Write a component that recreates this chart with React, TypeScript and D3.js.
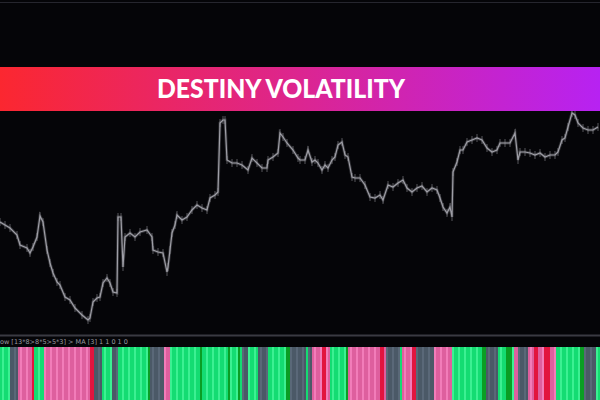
import { useEffect, useRef } from 'react';
import * as d3 from 'd3';

// price path: time index and level
const priceTime = [0, 5, 10, 17, 20, 27, 30, 33, 37, 40, 43, 47, 50, 53, 57, 60, 65, 70, 75, 82, 88, 90, 93, 97, 100, 103, 107, 110, 113, 117, 118, 121, 123, 125, 130, 135, 140, 147, 152, 153, 158, 163, 167, 168, 170, 172, 175, 177, 182, 187, 192, 197, 202, 207, 210, 215, 218, 220, 223, 225, 227, 232, 237, 242, 248, 252, 257, 262, 267, 268, 273, 278, 280, 283, 287, 293, 298, 300, 305, 308, 312, 315, 318, 322, 325, 328, 332, 335, 338, 342, 345, 348, 352, 355, 360, 365, 370, 375, 380, 383, 388, 393, 398, 403, 407, 412, 417, 422, 427, 432, 437, 440, 443, 447, 450, 452, 453, 457, 460, 463, 467, 472, 477, 482, 487, 492, 497, 500, 505, 510, 515, 518, 520, 525, 530, 535, 540, 545, 550, 555, 558, 562, 565, 568, 572, 575, 578, 583, 588, 593, 598];
const priceLevel = [108, 105, 102, 95, 85, 82, 77, 83, 93, 114, 108, 80, 67, 57, 48, 45, 33, 30, 22, 15, 10, 12, 28, 32, 33, 47, 52, 47, 38, 37, 113, 113, 63, 93, 97, 93, 98, 100, 93, 80, 78, 77, 58, 63, 80, 97, 105, 115, 110, 113, 120, 125, 122, 120, 132, 135, 138, 207, 210, 210, 170, 167, 167, 165, 160, 172, 167, 162, 162, 170, 173, 177, 197, 193, 187, 180, 172, 170, 170, 180, 168, 170, 167, 160, 165, 162, 170, 173, 185, 188, 175, 173, 153, 152, 152, 145, 133, 132, 135, 130, 145, 143, 147, 150, 142, 138, 142, 144, 138, 142, 140, 132, 123, 117, 123, 113, 158, 168, 180, 180, 188, 190, 192, 190, 182, 178, 180, 187, 187, 187, 197, 170, 178, 178, 177, 175, 177, 173, 175, 175, 178, 190, 192, 203, 217, 215, 207, 202, 200, 200, 203];

// indicator histogram: colour state per run, and run length in bars
const histState = ['G', 'S', 'P', 'R', 'G', 'P', 'R', 'S', 'G', 'S', 'G', 'D', 'S', 'P', 'G', 'D', 'G', 'D', 'G', 'D', 'G', 'S', 'G', 'S', 'G', 'D', 'S', 'G', 'S', 'P', 'R', 'P', 'G', 'D', 'P', 'R', 'P', 'S', 'G', 'P', 'R', 'S', 'P', 'G', 'D', 'S', 'G', 'D', 'G', 'P', 'S', 'P', 'R', 'P', 'R', 'P', 'G', 'D', 'S', 'G'];
const histRun = [5, 4, 7, 1, 5, 23, 2, 4, 5, 3, 15, 1, 7, 3, 15, 1, 13, 1, 4, 1, 1, 3, 5, 5, 9, 2, 8, 1, 2, 5, 2, 2, 8, 1, 16, 2, 1, 7, 1, 5, 2, 9, 9, 15, 2, 6, 4, 3, 1, 2, 5, 3, 2, 3, 3, 3, 12, 2, 6, 2];

const title = 'DESTINY VOLATILITY';
const indicatorLabel = 'ow [13*8>8*5>5*3] > MA [3]  1 1 0 1 0';

const stateColors: Record<string, [string, string]> = {
  G: ['#14dc72', '#3cf092'],
  D: ['#0a9e24', '#0a9e24'],
  S: ['#4b5967', '#5a6878'],
  P: ['#de5f9e', '#f27cb9'],
  R: ['#e2143e', '#e2143e'],
};

export default function App() {
  const ref = useRef<SVGSVGElement>(null);

  useEffect(() => {
    const W = 600;
    const H = 400;
    const svg = d3.select(ref.current);
    svg.selectAll('*').remove();

    svg.append('rect').attr('width', W).attr('height', H).attr('fill', '#050508');
    svg.append('line')
      .attr('x1', 0).attr('x2', W).attr('y1', 2.5).attr('y2', 2.5)
      .attr('stroke', '#26262e').attr('stroke-width', 1);

    // price chart
    const x = d3.scaleLinear().domain([0, 600]).range([0, W]);
    const y = d3.scaleLinear().domain([0, 225]).range([330, 105]);
    const pts = priceTime.map((t, i) => [t, priceLevel[i]] as [number, number]);
    const line = d3.line<[number, number]>().x(d => x(d[0])).y(d => y(d[1]));

    svg.append('path')
      .attr('d', line(pts))
      .attr('fill', 'none')
      .attr('stroke', '#6e6e76')
      .attr('stroke-width', 3)
      .attr('stroke-opacity', 0.4);
    // small bar ticks at each reading, like the OHLC bars
    svg.append('g')
      .selectAll('line')
      .data(pts)
      .join('line')
      .attr('x1', d => x(d[0])).attr('x2', d => x(d[0]))
      .attr('y1', d => y(d[1]) - 4).attr('y2', d => y(d[1]) + 4)
      .attr('stroke', '#8c8c94')
      .attr('stroke-width', 1)
      .attr('stroke-opacity', 0.6);
    svg.append('path')
      .attr('d', line(pts))
      .attr('fill', 'none')
      .attr('stroke', '#9e9ea6')
      .attr('stroke-width', 1.2);

    // banner
    const defs = svg.append('defs');
    const grad = defs.append('linearGradient').attr('id', 'bannerGrad');
    grad.append('stop').attr('offset', '0%').attr('stop-color', '#fb2730');
    grad.append('stop').attr('offset', '50%').attr('stop-color', '#dc2590');
    grad.append('stop').attr('offset', '100%').attr('stop-color', '#b722f2');
    svg.append('rect')
      .attr('x', 0).attr('y', 67).attr('width', W).attr('height', 44)
      .attr('fill', 'url(#bannerGrad)');
    svg.append('text')
      .attr('x', 157).attr('y', 98)
      .attr('textLength', 248)
      .attr('lengthAdjust', 'spacingAndGlyphs')
      .attr('fill', '#ffffff')
      .style('font-family', 'Lato, "Open Sans", sans-serif')
      .style('font-weight', 900)
      .style('font-size', '27px')
      .text(title);

    // indicator pane
    svg.append('rect')
      .attr('x', 0).attr('y', 334.5).attr('width', W).attr('height', 2)
      .attr('fill', '#3a3a42');
    svg.append('text')
      .attr('x', 0).attr('y', 344)
      .attr('fill', '#9a9aa2')
      .style('font-family', '"DejaVu Sans", sans-serif')
      .style('font-size', '6.5px')
      .text(indicatorLabel);

    const states: string[] = [];
    histState.forEach((s, i) => {
      for (let k = 0; k < histRun[i]; k++) states.push(s);
    });
    const hx = d3.scaleBand<number>().domain(d3.range(states.length)).range([0, W]).padding(0);
    svg.append('g')
      .selectAll('rect')
      .data(states)
      .join('rect')
      .attr('x', (_, i) => hx(i)!)
      .attr('y', 347)
      .attr('width', hx.bandwidth())
      .attr('height', H - 347)
      .attr('fill', (s, i) => stateColors[s][i % 3 === 1 ? 1 : 0]);
  }, []);

  return (
    <svg
      ref={ref}
      width={600}
      height={400}
      style={{ position: 'fixed', left: 0, top: 0, display: 'block' }}
    />
  );
}
